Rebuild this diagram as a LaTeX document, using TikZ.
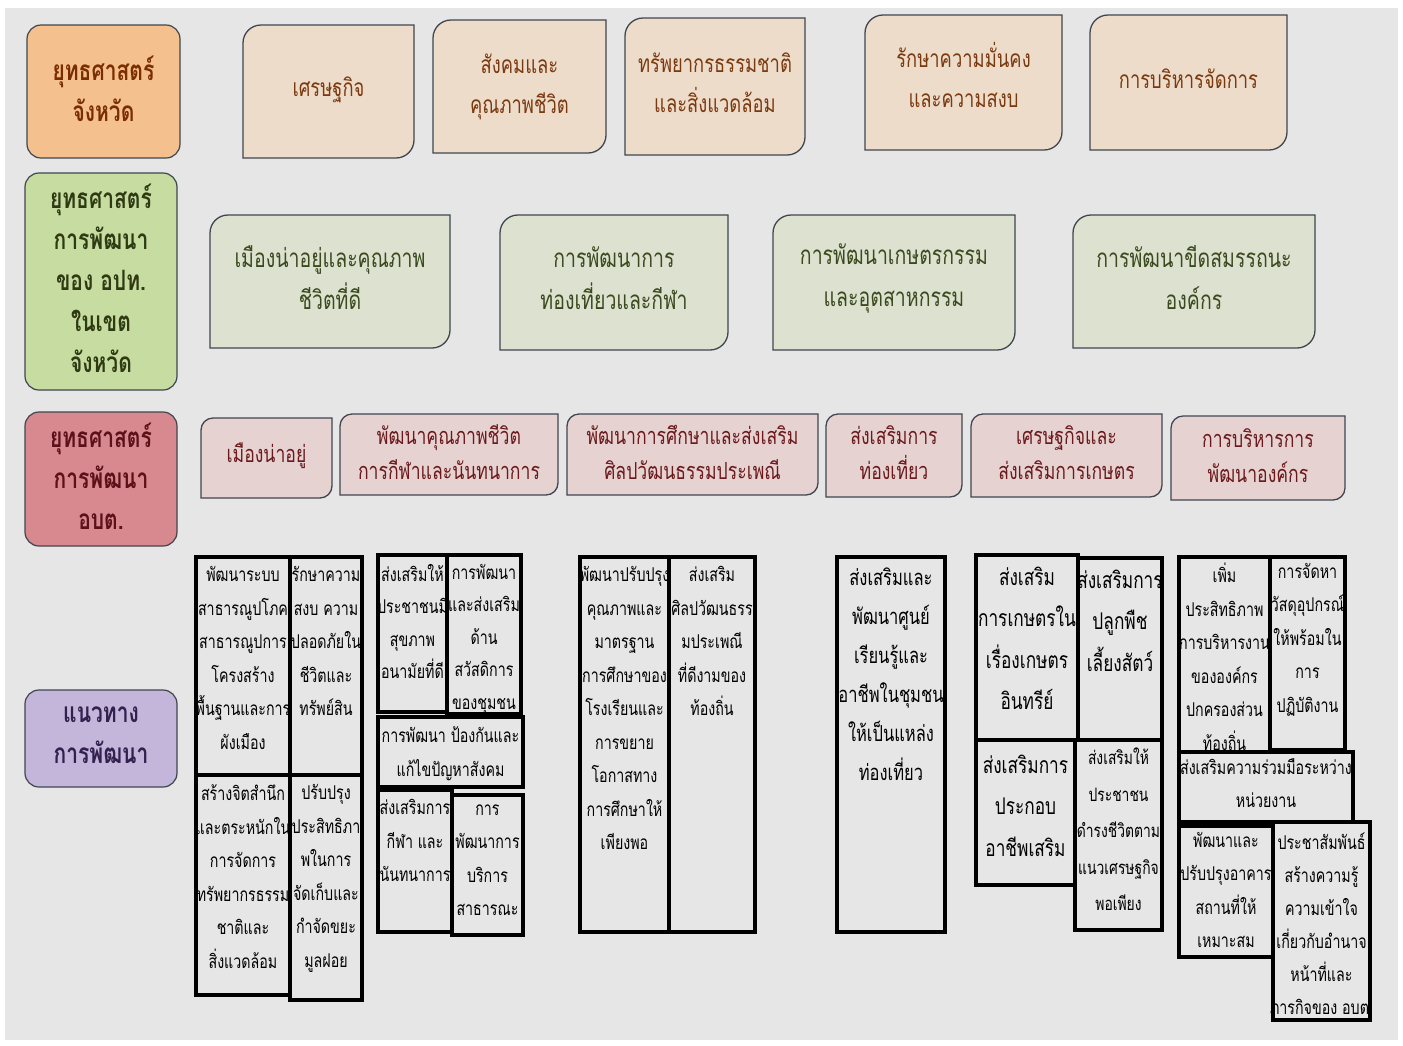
\documentclass[tikz,border=0pt]{standalone}
\usepackage{fontspec}
\newfontfamily\thai[Script=Thai,FakeStretch=0.75]{Loma}
\definecolor{bgc}{HTML}{E6E6E6}
\definecolor{orL}{HTML}{F4C08E}
\definecolor{grL}{HTML}{C6DCA0}
\definecolor{pkL}{HTML}{D8888F}
\definecolor{puL}{HTML}{C4B5DA}
\definecolor{or1}{HTML}{EEDCCB}
\definecolor{gr1}{HTML}{DCE2CF}
\definecolor{pk1}{HTML}{E7D2D2}
\definecolor{orT}{HTML}{7A3A10}
\definecolor{grT}{HTML}{3B4A1E}
\definecolor{pkT}{HTML}{6A1A1C}
\definecolor{orLT}{HTML}{7A2E00}
\definecolor{grLT}{HTML}{2F3A12}
\definecolor{pkLT}{HTML}{5C1018}
\definecolor{puLT}{HTML}{33204F}
\definecolor{edge}{HTML}{3F4650}
\tikzset{
  labbox/.style={draw=edge, line width=1.2pt, rounded corners=14pt},
  lab/.style={align=center, font=\thai\bfseries\fontsize{28}{41}\selectfont},
  rowline/.style={draw=edge, line width=1.3pt},
  t1/.style={align=center, text=orT, font=\thai\fontsize{24.5}{40}\selectfont},
  t2/.style={align=center, text=grT, yshift=4pt, font=\thai\fontsize{26}{42}\selectfont},
  t3/.style={align=center, text=pkT, yshift=2.5pt, font=\thai\fontsize{23.5}{35}\selectfont},
  bline/.style={draw=black, line width=3.5pt},
  bbase/.style={align=center, inner sep=0pt, text=black,
    execute at begin node={\rule{0pt}{1.25em}}},
  bs/.style={bbase, yshift=-4.5pt, font=\thai\fontsize{19}{33.5}\selectfont},
  bst/.style={bbase, yshift=-4pt, font=\thai\fontsize{19}{32.5}\selectfont},
  bse/.style={bbase, yshift=-3pt, font=\thai\fontsize{18.5}{36.5}\selectfont},
  bsx/.style={bbase, yshift=-1pt, font=\thai\fontsize{19}{33.5}\selectfont},
  bsxb/.style={bbase, yshift=-5.5pt, font=\thai\fontsize{19}{33}\selectfont},
  bm/.style={bbase, yshift=-5.5pt, font=\thai\fontsize{22}{39}\selectfont},
  bl/.style={bbase, yshift=-6.75pt, font=\thai\fontsize{23}{41.5}\selectfont},
}
% label box: name, fill, text colour, x1, y1, x2, y2, text
\newcommand\lbox[8]{%
  \draw[labbox, fill=#2] (#4,-#5) rectangle (#6,-#7);
  \node[lab, text=#3] (#1) at ({(#4+#6)/2},{-(#5+#7)/2+3}) {#8};}
% top box: name, fill, text style, x1, y1, x2, y2, text
\newcommand\tbox[8]{%
  \draw[rowline, fill=#2] (#4,-#7) -- (#4,{-#5-\rr}) arc[start angle=180,end angle=90,radius=\rr pt]
    -- (#6,-#5) -- (#6,{-#7+\rr}) arc[start angle=0,end angle=-90,radius=\rr pt] -- cycle;
  \node[#3] (#1) at ({(#4+#6)/2},{-(#5+#7)/2}) {#8};}
% bottom box: name, x1, y1, x2, y2, style, text
\newcommand\bbox[7]{%
  \draw[bline] (#2,-#3) rectangle (#4,-#5);
  \node[#6, anchor=north] (#1) at ({(#2+#4)/2},{-#3-5}) {#7};}
\begin{document}
\begin{tikzpicture}[x=1pt,y=1pt]
\useasboundingbox (0,0) rectangle (1403,-1045);
\fill[white] (0,0) rectangle (1403,-1045);
\fill[bgc] (5,-8) rectangle (1398,-1040);

% row labels
\lbox{l1}{orL}{orLT}{27}{25}{180}{158}{\fontsize{28}{38}\selectfont ยุทธศาสตร์\\จังหวัด}
\lbox{l2}{grL}{grLT}{25}{173}{177}{390}{ยุทธศาสตร์\\การพัฒนา\\ของ อปท.\\ในเขต\\จังหวัด}
\lbox{l3}{pkL}{pkLT}{25}{412}{177}{546}{ยุทธศาสตร์\\การพัฒนา\\อบต.}
\lbox{l4}{puL}{puLT}{25}{690}{177}{787}{แนวทาง\\การพัฒนา}

% row 1
\def\rr{18}
\tbox{s1}{or1}{t1,yshift=2pt}{243}{25}{414}{158}{เศรษฐกิจ}
\tbox{s2}{or1}{t1}{433}{20}{606}{153}{สังคมและ\\คุณภาพชีวิต}
\tbox{s3}{or1}{t1,yshift=4pt}{625}{18}{805}{155}{ทรัพยากรธรรมชาติ\\และสิ่งแวดล้อม}
\tbox{s4}{or1}{t1,yshift=8pt}{865}{15}{1062}{150}{รักษาความมั่นคง\\และความสงบ}
\tbox{s5}{or1}{t1,yshift=4pt}{1090}{15}{1287}{150}{การบริหารจัดการ}

% row 2
\tbox{g1}{gr1}{t2}{210}{215}{450}{348}{เมืองน่าอยู่และคุณภาพ\\ชีวิตที่ดี}
\tbox{g2}{gr1}{t2}{500}{215}{728}{350}{การพัฒนาการ\\ท่องเที่ยวและกีฬา}
\tbox{g3}{gr1}{t2}{773}{215}{1015}{350}{การพัฒนาเกษตรกรรม\\และอุตสาหกรรม}
\tbox{g4}{gr1}{t2}{1073}{215}{1315}{348}{การพัฒนาขีดสมรรถนะ\\องค์กร}

% row 3
\def\rr{12}
\tbox{p1}{pk1}{t3}{201}{418}{332}{498}{เมืองน่าอยู่}
\tbox{p2}{pk1}{t3}{340}{414}{558}{495}{พัฒนาคุณภาพชีวิต\\การกีฬาและนันทนาการ}
\tbox{p3}{pk1}{t3}{567}{414}{818}{495}{พัฒนาการศึกษาและส่งเสริม\\ศิลปวัฒนธรรมประเพณี}
\tbox{p4}{pk1}{t3}{826}{414}{962}{497}{ส่งเสริมการ\\ท่องเที่ยว}
\tbox{p5}{pk1}{t3}{971}{414}{1162}{497}{เศรษฐกิจและ\\ส่งเสริมการเกษตร}
\tbox{p6}{pk1}{t3}{1171}{416}{1345}{500}{การบริหารการ\\พัฒนาองค์กร}

% group A
\bbox{a1}{196}{557}{290}{775}{bs}{พัฒนาระบบ\\สาธารณูปโภค\\สาธารณูปการ\\โครงสร้าง\\พื้นฐานและการ\\ผังเมือง}
\bbox{a2}{290}{557}{362}{775}{bs}{รักษาความ\\สงบ ความ\\ปลอดภัยใน\\ชีวิตและ\\ทรัพย์สิน}
\bbox{a3}{196}{775}{290}{995}{bs}{สร้างจิตสำนึก\\และตระหนักใน\\การจัดการ\\ทรัพยากรธรรม\\ชาติและ\\สิ่งแวดล้อม}
\bbox{a4}{290}{775}{362}{1000}{bs}{ปรับปรุง\\ประสิทธิภา\\พในการ\\จัดเก็บและ\\กำจัดขยะ\\มูลฝอย}
% group B
\bbox{b1}{378}{555}{447}{712}{bst}{ส่งเสริมให้\\ประชาชนมี\\สุขภาพ\\อนามัยที่ดี}
\bbox{b2}{447}{555}{521}{714}{bst}{การพัฒนา\\และส่งเสริม\\ด้าน\\สวัสดิการ\\ของชุมชน}
\bbox{b3}{378}{717}{523}{787}{bs}{การพัฒนา ป้องกันและ\\แก้ไขปัญหาสังคม}
\bbox{b4}{378}{790}{452}{932}{bs}{ส่งเสริมการ\\กีฬา และ\\นันทนาการ}
\bbox{b5}{452}{795}{523}{935}{bs}{การ\\พัฒนาการ\\บริการ\\สาธารณะ}
% group C
\bbox{c1}{580}{557}{669}{932}{bs}{พัฒนาปรับปรุง\\คุณภาพและ\\มาตรฐาน\\การศึกษาของ\\โรงเรียนและ\\การขยาย\\โอกาสทาง\\การศึกษาให้\\เพียงพอ}
\bbox{c2}{669}{557}{755}{932}{bs}{ส่งเสริม\\ศิลปวัฒนธรร\\มประเพณี\\ที่ดีงามของ\\ท้องถิ่น}
% group D
\bbox{d1}{837}{557}{945}{932}{bm}{ส่งเสริมและ\\พัฒนาศูนย์\\เรียนรู้และ\\อาชีพในชุมชน\\ให้เป็นแหล่ง\\ท่องเที่ยว}
% group E
\bbox{e1}{976}{555}{1078}{740}{bl}{ส่งเสริม\\การเกษตรใน\\เรื่องเกษตร\\อินทรีย์}
\bbox{e2}{1078}{558}{1162}{740}{bl}{ส่งเสริมการ\\ปลูกพืช\\เลี้ยงสัตว์}
\bbox{e3}{976}{740}{1075}{885}{bl,yshift=-3pt}{ส่งเสริมการ\\ประกอบ\\อาชีพเสริม}
\bbox{e4}{1075}{740}{1162}{930}{bse}{ส่งเสริมให้\\ประชาชน\\ดำรงชีวิตตาม\\แนวเศรษฐกิจ\\พอเพียง}
% group F
\bbox{f1}{1179}{557}{1270}{752}{bsx}{เพิ่ม\\ประสิทธิภาพ\\การบริหารงาน\\ขององค์กร\\ปกครองส่วน\\ท้องถิ่น}
\bbox{f2}{1270}{557}{1345}{750}{bsx}{การจัดหา\\วัสดุอุปกรณ์\\ให้พร้อมใน\\การ\\ปฏิบัติงาน}
\bbox{f3}{1179}{752}{1353}{822}{bsx}{ส่งเสริมความร่วมมือระหว่าง\\หน่วยงาน}
\bbox{f4}{1179}{826}{1273}{957}{bsx}{พัฒนาและ\\ปรับปรุงอาคาร\\สถานที่ให้\\เหมาะสม}
\bbox{f5}{1273}{822}{1370}{1020}{bsxb}{ประชาสัมพันธ์\\สร้างความรู้\\ความเข้าใจ\\เกี่ยวกับอำนาจ\\หน้าที่และ\\ภารกิจของ อบต.}
\end{tikzpicture}
\end{document}
